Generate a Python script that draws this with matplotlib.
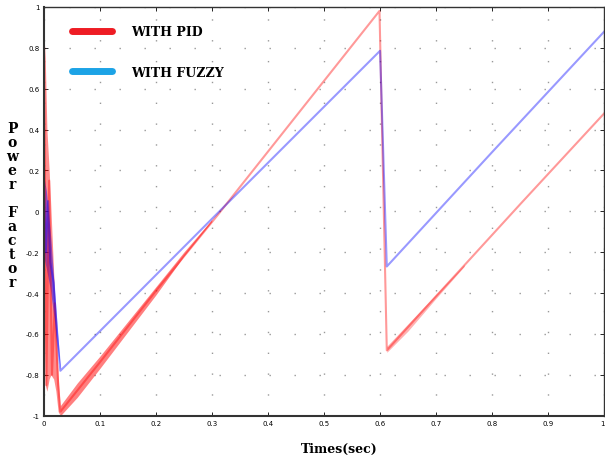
import numpy as np
import matplotlib.pyplot as plt
from matplotlib.lines import Line2D

# PID response: main line (key points)
t_pid = [0.0, 0.002, 0.005, 0.01, 0.015, 0.02, 0.026, 0.03, 0.1, 0.2, 0.31, 0.599, 0.612, 0.7, 0.85, 1.0]
pf_pid = [0.9, 0.3, -0.85, 0.15, -0.8, -0.45, -0.85, -0.98, -0.74, -0.39, -0.02, 0.98, -0.68, -0.415, 0.035, 0.48]

# PID transient envelope (0 .. 0.03 s)
t_pid_tr = [0.0, 0.003, 0.006, 0.01, 0.013, 0.018, 0.022, 0.026, 0.03]
pid_tr_hi = [0.9, 0.75, 0.4, 0.2, 0.02, -0.3, -0.55, -0.8, -0.97]
pid_tr_lo = [-0.2, -0.85, -0.88, -0.82, -0.8, -0.82, -0.88, -0.98, -1.0]

# PID ripple band after the transient
t_pid_band = [0.03, 0.06, 0.1, 0.15, 0.2, 0.25, 0.3]
pid_band_hi = [-0.95, -0.84, -0.71, -0.54, -0.37, -0.2, -0.04]
pid_band_lo = [-1.0, -0.91, -0.77, -0.59, -0.41, -0.22, -0.05]
t_pid_band2 = [0.612, 0.65, 0.7, 0.75]
pid_band2_hi = [-0.66, -0.55, -0.405, -0.26]
pid_band2_lo = [-0.69, -0.585, -0.425, -0.27]

# Fuzzy response
t_fz = [0.0, 0.004, 0.008, 0.012, 0.018, 0.024, 0.03, 0.31, 0.6, 0.612, 0.8, 1.0]
pf_fz = [0.15, -0.2, 0.05, -0.25, -0.35, -0.6, -0.78, -0.01, 0.785, -0.27, 0.29, 0.88]
t_fz_tr = [0.0, 0.005, 0.012, 0.02, 0.026, 0.03]
fz_tr_hi = [0.18, 0.1, -0.1, -0.4, -0.62, -0.78]
fz_tr_lo = [-0.22, -0.28, -0.38, -0.55, -0.7, -0.78]

xticks = np.arange(0, 1.01, 0.1)
yticks = np.arange(-1, 1.01, 0.2)
xtick_labels = ['0', '0.1', '0.2', '0.3', '0.4', '0.5', '0.6', '0.7', '0.8', '0.9', '1']
ytick_labels = ['-1', '-0.8', '-0.6', '-0.4', '-0.2', '0', '0.2', '0.4', '0.6', '0.8', '1']

fig = plt.figure(figsize=(6.05, 4.6), dpi=100)
ax = fig.add_axes([0.072, 0.094, 0.927, 0.889])

ax.fill_between(t_pid_tr, pid_tr_lo, pid_tr_hi, color='red', alpha=0.45, lw=0)
ax.fill_between(t_pid_band, pid_band_lo, pid_band_hi, color='red', alpha=0.5, lw=0)
ax.fill_between(t_pid_band2, pid_band2_lo, pid_band2_hi, color='red', alpha=0.3, lw=0)
ax.plot(t_pid, pf_pid, color='red', alpha=0.4, lw=1.5)

ax.fill_between(t_fz_tr, fz_tr_lo, fz_tr_hi, color='blue', alpha=0.45, lw=0)
ax.plot(t_fz, pf_fz, color='blue', alpha=0.4, lw=1.5)

ax.set_xlim(0, 1)
ax.set_ylim(-1, 1)
ax.set_xticks(xticks)
ax.set_xticklabels(xtick_labels)
ax.set_yticks(yticks)
ax.set_yticklabels(ytick_labels)
ax.get_xticklabels()[-1].set_ha('right')
ax.tick_params(direction='in', length=3, width=0.6, labelsize=5, pad=3,
               top=True, right=True)
for s in ax.spines.values():
    s.set_linewidth(1.0)
    s.set_color('#333333')
ax.spines['bottom'].set_linewidth(1.5)
ax.spines['left'].set_linewidth(1.5)

ax.xaxis.grid(True, color='#999999', lw=1.0, ls=(0, (1, 14)))
ax.yaxis.grid(True, color='#999999', lw=1.0, ls=(0, (1, 17)))
ax.set_axisbelow(True)

handles = [Line2D([], [], color='#ee1c24', lw=5, solid_capstyle='round'),
           Line2D([], [], color='#1ca3e6', lw=5, solid_capstyle='round')]
ax.legend(handles, ['WITH PID', 'WITH FUZZY'], loc='upper left',
          bbox_to_anchor=(0.05, 0.955), frameon=False, borderpad=0,
          borderaxespad=0, handlelength=3.2, handletextpad=1.6,
          labelspacing=2.2,
          prop={'family': 'DejaVu Serif', 'weight': 'bold', 'size': 9})

fig.text(0.02, 0.553, '\n'.join('Power Factor'), ha='center', va='center',
         family='DejaVu Serif', weight='bold', size=10, linespacing=1.0)
fig.text(0.56, 0.022, 'Times(sec)', ha='center', va='center',
         family='DejaVu Serif', weight='bold', size=9)

fig.savefig('out.png', dpi=100)
